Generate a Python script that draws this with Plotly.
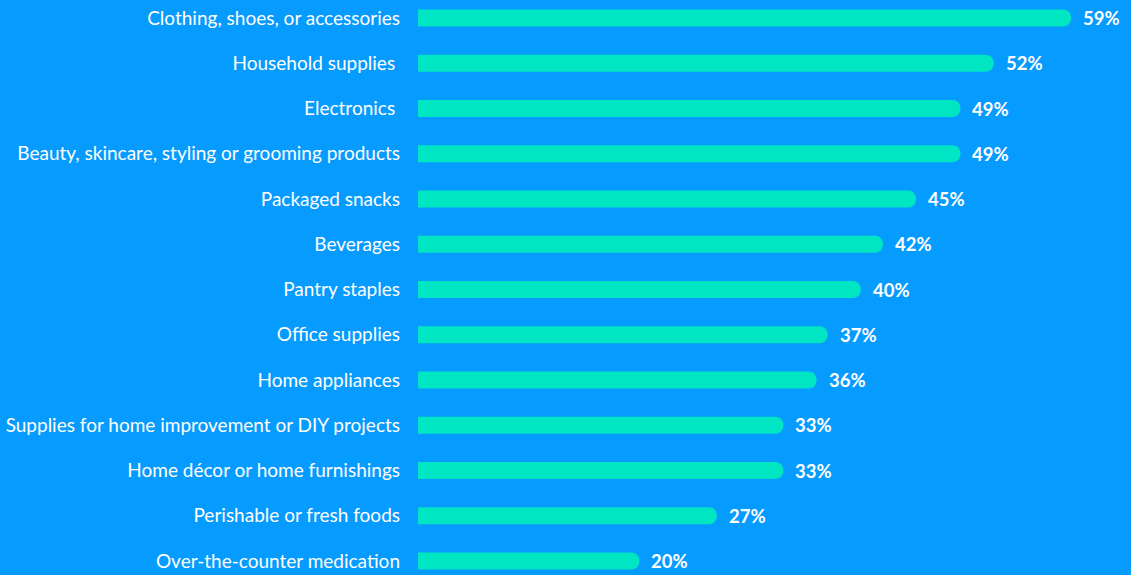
import plotly.graph_objects as go

categories = [
    "Clothing, shoes, or accessories",
    "Household supplies ",
    "Electronics ",
    "Beauty, skincare, styling or grooming products",
    "Packaged snacks",
    "Beverages",
    "Pantry staples",
    "Office supplies",
    "Home appliances",
    "Supplies for home improvement or DIY projects",
    "Home décor or home furnishings",
    "Perishable or fresh foods",
    "Over-the-counter medication",
]
values = [59, 52, 49, 49, 45, 42, 40, 37, 36, 33, 33, 27, 20]
value_labels = [f"{v}%" for v in values]

BG = "#069BFE"
BAR = "#00E6C3"
FONT = "Lato"

fig = go.Figure()
fig.add_trace(go.Bar(
    y=categories,
    x=values,
    orientation="h",
    marker=dict(color=BAR, line=dict(width=0)),
    width=0.375,
    hoverinfo="skip",
))

for c, v, t in zip(categories, values, value_labels):
    fig.add_annotation(
        x=v, y=c, text=f"<b>{t}</b>", showarrow=False,
        xanchor="left", yanchor="middle", xshift=10,
        font=dict(family=FONT, size=18.5, color="white"),
    )

fig.update_layout(
    width=1131, height=575,
    margin=dict(l=418, r=0, t=0, b=0),
    paper_bgcolor=BG, plot_bgcolor=BG,
    barcornerradius=8,
    showlegend=False,
    xaxis=dict(range=[0, 713 / 11.07], visible=False, showgrid=False, zeroline=False),
    yaxis=dict(
        type="category",
        categoryorder="array", categoryarray=categories,
        range=[12.309, -0.398],
        showgrid=False, zeroline=False, showline=False,
        ticks="", ticklabelstandoff=17,
        tickfont=dict(family=FONT, size=19, color="white"),
    ),
)

fig.write_html(
    "out.html",
    config={"displayModeBar": False},
    post_script="document.body.style.margin='0';document.body.style.padding='0';"
                "document.body.style.background='" + BG + "';",
)
